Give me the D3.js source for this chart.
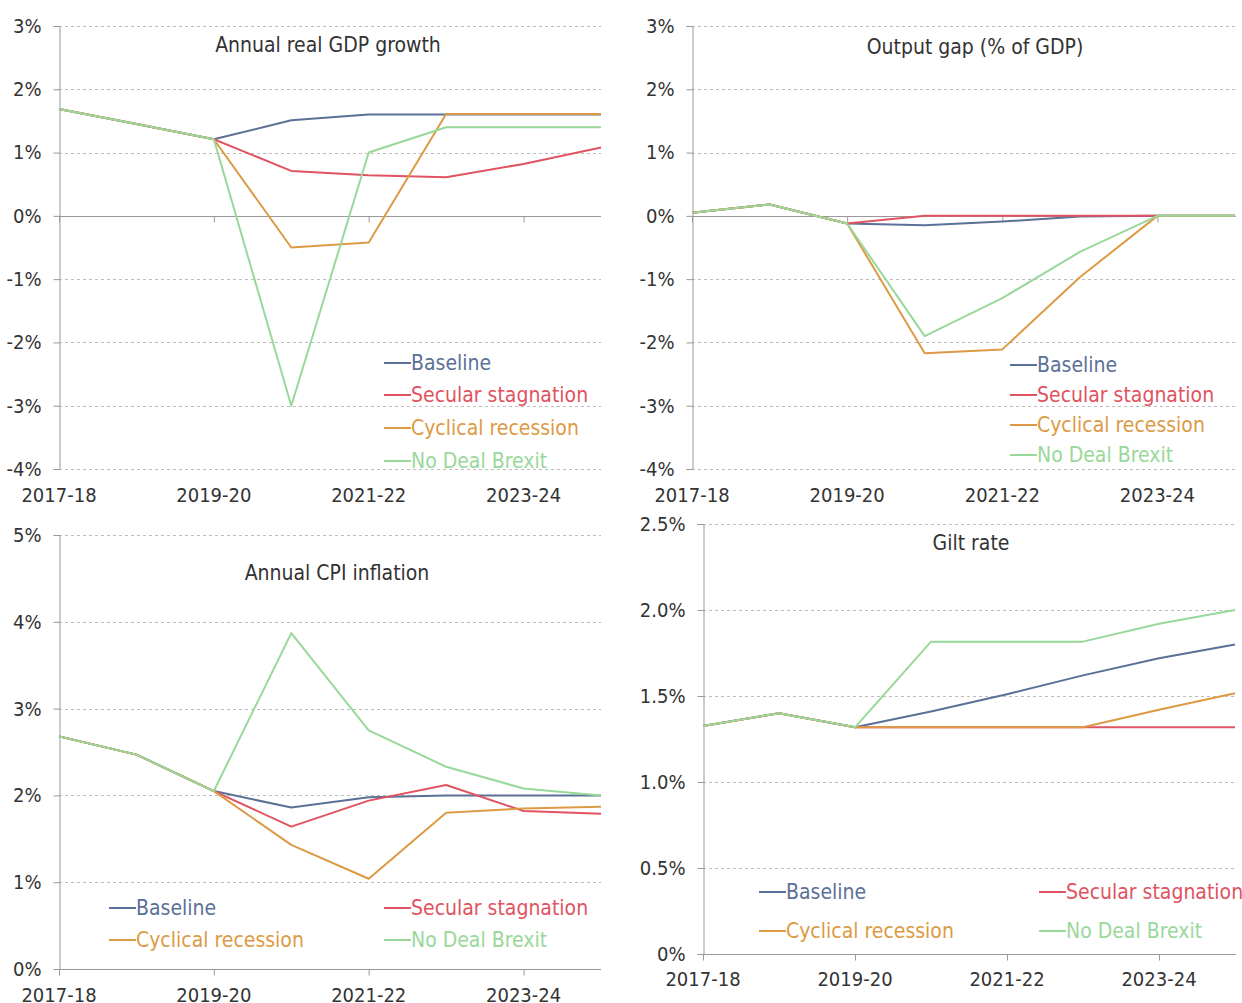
<!DOCTYPE html>
<html>
<head>
<meta charset="utf-8">
<script src="https://cdn.jsdelivr.net/npm/d3@7"></script>
<style>
  html, body { margin: 0; padding: 0; background: #fff; }
  svg { display: block; }
  text { font-family: "DejaVu Sans Condensed", "DejaVu Sans", sans-serif; fill: #333; }
</style>
</head>
<body>
<svg id="chart" width="1242" height="1003"></svg>
<script>
// ---------- Data ----------
const years = ["2017-18","2018-19","2019-20","2020-21","2021-22","2022-23","2023-24","2024-25"];
const tickYears = ["2017-18","2019-20","2021-22","2023-24"];
const seriesNames = ["Baseline","Secular stagnation","Cyclical recession","No Deal Brexit"];
const seriesColors = ["#5b7096","#e05360","#dc9a44","#98d89a"];

// Annual real GDP growth (%)
const gdpBaseline = [1.69, 1.45, 1.21, 1.51, 1.60, 1.60, 1.60, 1.60];
const gdpSecular  = [1.69, 1.45, 1.21, 0.71, 0.64, 0.61, 0.82, 1.08];
const gdpCyclical = [1.69, 1.45, 1.21, -0.50, -0.42, 1.61, 1.61, 1.61];
const gdpNoDeal   = [1.69, 1.45, 1.21, -3.00, 1.00, 1.40, 1.40, 1.40];
const gdpTicks = [3, 2, 1, 0, -1, -2, -3, -4];

// Output gap (% of GDP)
const gapBaseline = [0.05, 0.18, -0.12, -0.15, -0.09, -0.01, 0, 0];
const gapSecular  = [0.05, 0.18, -0.12, 0, 0, 0, 0, 0];
const gapCyclical = [0.05, 0.18, -0.12, -2.17, -2.11, -0.97, 0, 0];
const gapNoDeal   = [0.05, 0.18, -0.12, -1.90, -1.30, -0.57, 0, 0];
const gapTicks = [3, 2, 1, 0, -1, -2, -3, -4];

// Annual CPI inflation (%)
const cpiBaseline = [2.68, 2.47, 2.05, 1.86, 1.98, 2.00, 2.00, 2.00];
const cpiSecular  = [2.68, 2.47, 2.05, 1.64, 1.94, 2.12, 1.82, 1.79];
const cpiCyclical = [2.68, 2.47, 2.05, 1.43, 1.04, 1.80, 1.85, 1.87];
const cpiNoDeal   = [2.68, 2.47, 2.05, 3.87, 2.75, 2.33, 2.08, 2.00];
const cpiTicks = [5, 4, 3, 2, 1, 0];

// Gilt rate (%)
const giltBaseline = [1.326, 1.40, 1.318, 1.41, 1.51, 1.62, 1.72, 1.80];
const giltSecular  = [1.326, 1.40, 1.318, 1.318, 1.318, 1.318, 1.318, 1.318];
const giltCyclical = [1.326, 1.40, 1.318, 1.318, 1.318, 1.318, 1.42, 1.516];
const giltNoDeal   = [1.326, 1.40, 1.318, 1.816, 1.816, 1.816, 1.92, 2.00];
const giltTicks = [2.5, 2.0, 1.5, 1.0, 0.5, 0];

// ---------- Drawing ----------
const svg = d3.select("#chart");

function drawPanel(cfg) {
  const g = svg.append("g");
  const x = d3.scalePoint().domain(years).range([cfg.left, cfg.right]);
  const y = d3.scaleLinear().domain([cfg.yMin, cfg.yMax]).range([cfg.bottom, cfg.top]);

  // gridlines (dashed), except zero
  g.selectAll(".grid").data(cfg.ticks.filter(t => t !== 0)).enter().append("line")
    .attr("x1", cfg.left).attr("x2", cfg.gridRight)
    .attr("y1", d => Math.round(y(d)) + 0.5).attr("y2", d => Math.round(y(d)) + 0.5)
    .attr("stroke", "#bdbdbd").attr("stroke-width", 1).attr("stroke-dasharray", "3,3");

  // y axis
  const yAxis = d3.axisLeft(y).tickValues(cfg.ticks).tickSize(6).tickPadding(12)
    .tickFormat(cfg.fmt);
  const ya = g.append("g").attr("transform", `translate(${cfg.left + 0.5},0)`).call(yAxis);
  ya.select(".domain").attr("stroke", "#999");
  ya.selectAll(".tick line").attr("stroke", "#999");
  ya.selectAll(".tick text").attr("font-size", 20).attr("fill", "#333")
    .attr("font-family", "DejaVu Sans Condensed");

  // x axis line at zero
  const y0 = Math.round(y(0)) + 0.5;
  const xa = g.append("g").attr("transform", `translate(0,${y0})`)
    .call(d3.axisBottom(x).tickValues(tickYears).tickSize(6).tickFormat(""));
  xa.select(".domain").attr("stroke", "#999").attr("d", `M${cfg.left},0H${cfg.gridRight}`);
  xa.selectAll(".tick line").attr("stroke", "#999");

  // x labels at bottom
  g.selectAll(".xlab").data(tickYears).enter().append("text")
    .attr("x", d => x(d)).attr("y", cfg.bottom + cfg.labelOffset)
    .attr("text-anchor", "middle").attr("font-size", 20).text(d => d);

  // title
  g.append("text").attr("x", cfg.titleX).attr("y", cfg.titleY)
    .attr("text-anchor", "middle").attr("font-size", 21).text(cfg.title);

  // lines
  const line = d3.line().x((d, i) => x(years[i])).y(d => y(d));
  cfg.series.forEach((s, k) => {
    g.append("path").datum(s).attr("d", line)
      .attr("fill", "none").attr("stroke", seriesColors[k]).attr("stroke-width", 2)
      .attr("stroke-linejoin", "round");
  });

  // legend
  cfg.legend.forEach((p, k) => {
    g.append("line").attr("x1", p[0]).attr("x2", p[0] + 27)
      .attr("y1", p[1]).attr("y2", p[1])
      .attr("stroke", seriesColors[k]).attr("stroke-width", 2);
    g.append("text").attr("x", p[0] + 27).attr("y", p[1]).attr("dy", "0.35em")
      .attr("font-size", 21).style("fill", seriesColors[k]).text(seriesNames[k]);
  });
}

const pct0 = d => d + "%";
const pct1 = d => (d === 0 ? "0%" : d3.format(".1f")(d) + "%");

drawPanel({
  left: 59, right: 601, gridRight: 601, top: 26, bottom: 469, yMin: -4, yMax: 3,
  ticks: gdpTicks, fmt: pct0, labelOffset: 33,
  title: "Annual real GDP growth", titleX: 328, titleY: 52,
  series: [gdpBaseline, gdpSecular, gdpCyclical, gdpNoDeal],
  legend: [[384, 363], [384, 395], [384, 428], [384, 461]]
});

drawPanel({
  left: 692, right: 1235, gridRight: 1236, top: 26, bottom: 469, yMin: -4, yMax: 3,
  ticks: gapTicks, fmt: pct0, labelOffset: 33,
  title: "Output gap (% of GDP)", titleX: 975, titleY: 54,
  series: [gapBaseline, gapSecular, gapCyclical, gapNoDeal],
  legend: [[1010, 365], [1010, 395], [1010, 425], [1010, 455]]
});

drawPanel({
  left: 59, right: 601, gridRight: 601, top: 535, bottom: 969, yMin: 0, yMax: 5,
  ticks: cpiTicks, fmt: pct0, labelOffset: 33,
  title: "Annual CPI inflation", titleX: 337, titleY: 580,
  series: [cpiBaseline, cpiSecular, cpiCyclical, cpiNoDeal],
  legend: [[109, 908], [384, 908], [109, 940], [384, 940]]
});

drawPanel({
  left: 703, right: 1235, gridRight: 1236, top: 524, bottom: 954, yMin: 0, yMax: 2.5,
  ticks: giltTicks, fmt: pct1, labelOffset: 32,
  title: "Gilt rate", titleX: 971, titleY: 550,
  series: [giltBaseline, giltSecular, giltCyclical, giltNoDeal],
  legend: [[759, 892], [1039, 892], [759, 931], [1039, 931]]
});
</script>
</body>
</html>
